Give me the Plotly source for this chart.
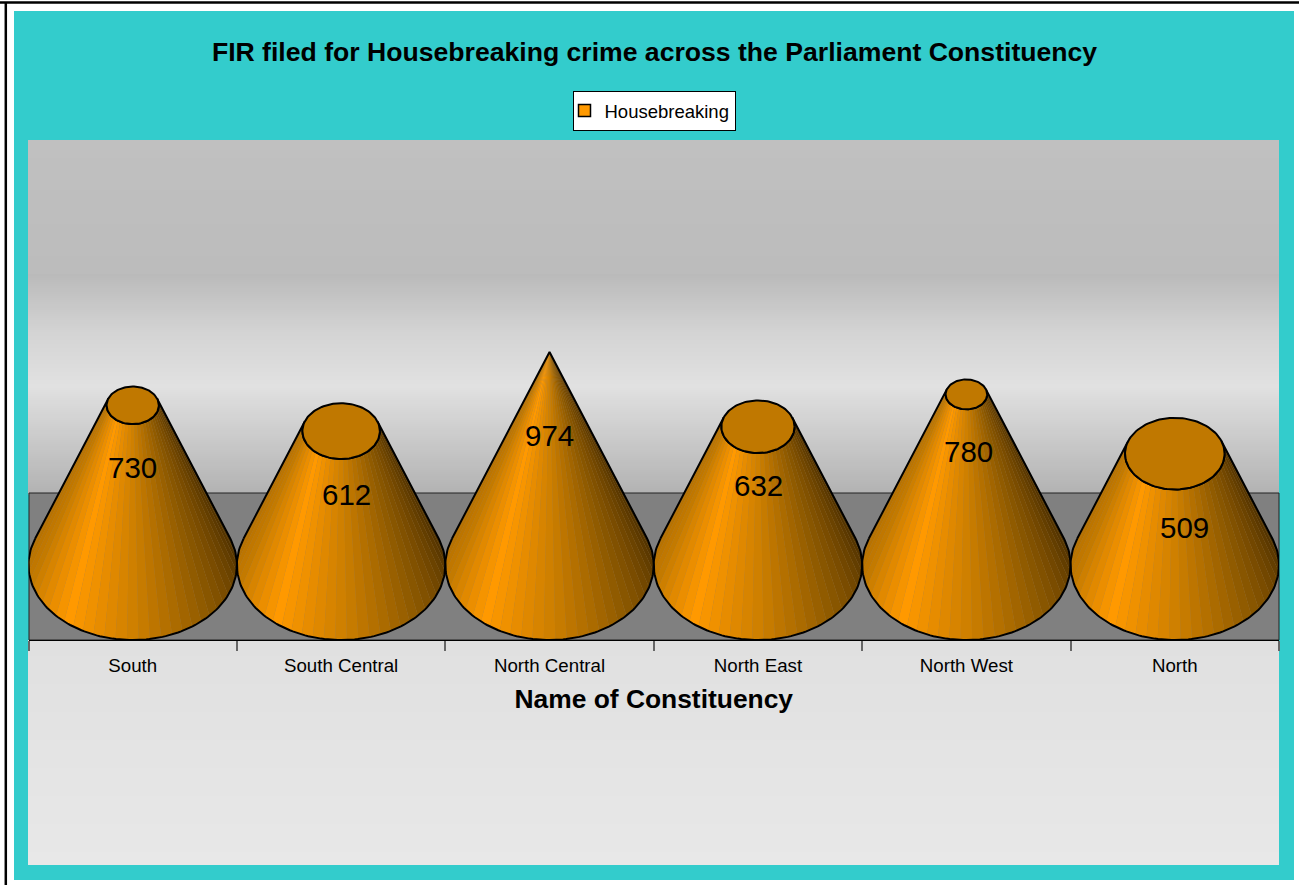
import math
import plotly.graph_objects as go

# ---- data ----
categories = ["South", "South Central", "North Central", "North East", "North West", "North"]
values = [730, 612, 974, 632, 780, 509]
series_name = "Housebreaking"
title_text = "FIR filed for Housebreaking crime across the Parliament Constituency"
x_title_text = "Name of Constituency"
label_dx = [0, 5, 0, 1, 2, 10]
label_dy = [-62, -63, -84, -59, -57, -74]

W, H = 1299, 885
PX_L, PX_R, PX_T, PX_B = 28.5, 1279, 140, 640
BASE_B = 343.0          # vertical half-axis of the base ellipse, in value units
Y_MAX = 1943.0
R = 0.5                 # base radius, in category units
APEX = max(values)
FONT = "Liberation Sans, Arial, sans-serif"


def hex2rgb(h):
    return tuple(int(h[i:i + 2], 16) for i in (1, 3, 5))


def ramp(stops, t):
    if t <= stops[0][0]:
        return hex2rgb(stops[0][1])
    for (a, ca), (b, cb) in zip(stops, stops[1:]):
        if t <= b:
            f = (t - a) / (b - a)
            c1, c2 = hex2rgb(ca), hex2rgb(cb)
            return tuple(c1[k] + (c2[k] - c1[k]) * f for k in range(3))
    return hex2rgb(stops[-1][1])


def css(c):
    return "rgb(%d,%d,%d)" % tuple(round(v) for v in c)


SHADE = [(159, "#ae6c00"), (195, "#c47a00"), (232, "#ff9900"), (270, "#cf8000"),
         (315, "#8f5a00"), (360, "#5a3800"), (381, "#462c00")]
WALL = [(140, "#c0c0c0"), (272, "#bcbcbc"), (273, "#bababa"), (330, "#d3d3d3"),
        (385, "#e1e1e1"), (493, "#b2b2b2")]
FLOOR = [(640, "#e0e0e0"), (865, "#e8e8e8")]

px = lambda x: x / W
py = lambda y: 1 - y / H


def rect(x0, y0, x1, y1, fill, line=None, width=0):
    return dict(type="rect", xref="paper", yref="paper", x0=px(x0), x1=px(x1), y0=py(y0), y1=py(y1),
                fillcolor=fill, line=dict(color=line or fill, width=width), layer="below")


shapes = [rect(14, 11, 1294, 880, "#33cccc")]
for y in range(140, 493, 2):
    shapes.append(rect(28, y, 1279, y + 2.4, css(ramp(WALL, y))))
for y in range(640, 865, 4):
    shapes.append(rect(28, y, 1279, min(y + 4.4, 865), css(ramp(FLOOR, y))))
shapes.append(rect(29, 493, 1279, 640, "#808080", "#222222", 1))
# frame lines of the page
shapes.append(dict(type="line", xref="paper", yref="paper", x0=px(0), x1=1, y0=py(2.5), y1=py(2.5),
                   line=dict(color="black", width=2.5), layer="below"))
shapes.append(dict(type="line", xref="paper", yref="paper", x0=px(5.8), x1=px(5.8), y0=py(2), y1=0,
                   line=dict(color="black", width=2.5), layer="below"))

fig = go.Figure()
tangent = math.degrees(math.asin(BASE_B / APEX))
t_start, t_end = 180 - tangent, 360 + tangent
N = 35


def ell(cx, cy, r, b, t):
    a = math.radians(t)
    return cx + r * math.cos(a), cy + b * math.sin(a)


for i, v in enumerate(values):
    cx = i + 0.5
    k = 1 - v / APEX
    steps = 120
    side = [ell(cx, 0, R, BASE_B, t_start + (t_end - t_start) * j / steps) for j in range(steps + 1)]
    side += [ell(cx, v, R * k, BASE_B * k, t_end - (t_end - t_start) * j / steps) for j in range(steps + 1)]
    side.append(side[0])
    # underlay: shows through the seams between facets
    fig.add_trace(go.Scatter(x=[p[0] for p in side], y=[p[1] for p in side], mode="lines",
                             fill="toself", fillcolor="#a08050", line=dict(width=0),
                             hoverinfo="skip", showlegend=False))
    # shaded facets of the visible side
    for s in range(N):
        t0 = t_start + (t_end - t_start) * s / N
        t1 = t_start + (t_end - t_start) * (s + 1) / N
        pts = [ell(cx, 0, R, BASE_B, t0 + (t1 - t0) * j / 3) for j in range(4)]
        pts += [ell(cx, v, R * k, BASE_B * k, t1 - (t1 - t0) * j / 3) for j in range(4)]
        fig.add_trace(go.Scatter(x=[p[0] for p in pts], y=[p[1] for p in pts], mode="lines",
                                 fill="toself", fillcolor=css(ramp(SHADE, (t0 + t1) / 2)),
                                 line=dict(width=0), hoverinfo="skip", showlegend=False))
    # outline of the side
    fig.add_trace(go.Scatter(x=[p[0] for p in side], y=[p[1] for p in side], mode="lines",
                             line=dict(color="black", width=2), hoverinfo="skip", showlegend=False))
    # top cap
    if k > 0:
        pts = [ell(cx, v, R * k, BASE_B * k, j * 3) for j in range(121)]
        fig.add_trace(go.Scatter(x=[p[0] for p in pts], y=[p[1] for p in pts], mode="lines",
                                 fill="toself", fillcolor="#c07800",
                                 line=dict(color="black", width=2), hoverinfo="skip", showlegend=False))

# legend entry
fig.add_trace(go.Scatter(x=[None], y=[None], mode="markers", name=series_name,
                         marker=dict(symbol="square", size=12, color="#ff9900",
                                     line=dict(color="black", width=1.5))))

annotations = [dict(x=i + 0.5, y=v, xref="x", yref="y", text=str(v), showarrow=False,
                    xshift=label_dx[i], yshift=label_dy[i],
                    font=dict(family=FONT, size=29.5, color="black"))
               for i, v in enumerate(values)]

fig.update_layout(
    width=W, height=H, autosize=False,
    margin=dict(l=0, r=0, t=0, b=0, autoexpand=False),
    paper_bgcolor="white", plot_bgcolor="rgba(0,0,0,0)",
    shapes=shapes, annotations=annotations,
    title=dict(text="<b>%s</b>" % title_text, x=654.5 / W, xanchor="center", xref="paper",
               y=py(52), yanchor="middle", yref="paper",
               font=dict(family=FONT, size=26.6, color="black")),
    showlegend=True,
    legend=dict(x=654 / W, xanchor="center", y=py(111), yanchor="middle", indentation=-9,
                bgcolor="white", bordercolor="black", borderwidth=1,
                font=dict(family=FONT, size=18.5, color="black")),
    xaxis=dict(domain=[px(PX_L), px(PX_R)], range=[0, len(values)], tickmode="array",
               tickvals=[i + 0.5 for i in range(len(values))], ticktext=categories,
               ticks="outside", ticklen=9, tickcolor="rgba(0,0,0,0)", tickfont=dict(family=FONT, size=18.7, color="black"),
               showgrid=False, zeroline=False, showline=True, linecolor="black", linewidth=1,
               minor=dict(tickvals=list(range(len(values) + 1)), ticks="outside", ticklen=10,
                          tickcolor="#666666", tickwidth=1.5, showgrid=False),
               title=dict(text="<b>%s</b>" % x_title_text, standoff=14,
                          font=dict(family=FONT, size=26.4, color="black"))),
    yaxis=dict(domain=[py(PX_B), py(PX_T)], range=[-BASE_B, Y_MAX], visible=False),
)

fig.write_html("out.html", config=dict(displayModeBar=False),
               post_script="document.body.style.margin='0';")
